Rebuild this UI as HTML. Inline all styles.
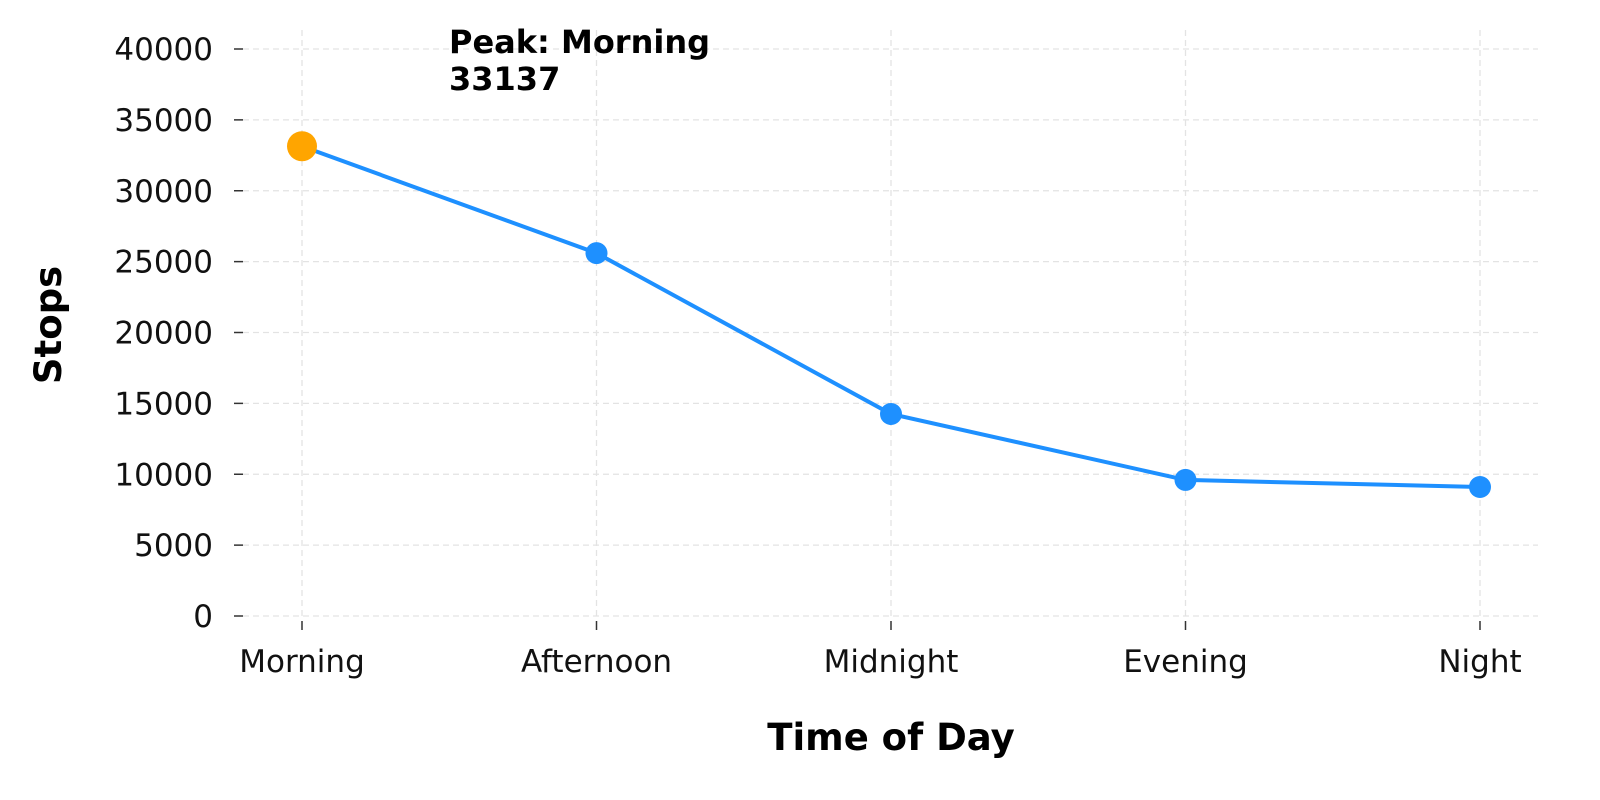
<!DOCTYPE html>
<html><head><meta charset="utf-8"><style>
body{margin:0;background:#fff;}
svg{display:block;font-family:"DejaVu Sans","Liberation Sans",sans-serif;}
</style></head><body>
<svg id="chart" width="1600" height="800" viewBox="0 0 1600 800">
<g id="grid"></g>
<g id="axes"></g>
<g id="series"></g>
<text x="891" y="750" text-anchor="middle" font-size="37" font-weight="bold">Time of Day</text>
<text transform="translate(61,325) rotate(-90)" text-anchor="middle" font-size="37" font-weight="bold">Stops</text>
<text x="449" y="53" font-size="32" font-weight="bold"><tspan x="449">Peak: Morning</tspan><tspan id="peakval" x="449" dy="37">33137</tspan></text>
</svg>
<script>
const categories = ["Morning","Afternoon","Midnight","Evening","Night"];
const stops = [33137, 25600, 14250, 9600, 9100];
const yTicks = [0,5000,10000,15000,20000,25000,30000,35000,40000];
const NS="http://www.w3.org/2000/svg";
function xs(i){return 302+i*294.5;}
function ys(v){return 616-v*(567/40000);}
function mk(tag,attrs,parent){const e=document.createElementNS(NS,tag);for(const k in attrs)e.setAttribute(k,attrs[k]);parent.appendChild(e);return e;}
const grid=document.getElementById('grid'),axes=document.getElementById('axes'),series=document.getElementById('series');
yTicks.forEach(t=>{
  const y=ys(t);
  const g=mk('line',{x1:243,x2:1538,y1:y,y2:y,stroke:'#e3e3e3','stroke-width':1.3,'stroke-dasharray':'6,4'},grid);
  
  
  const tk=mk('line',{x1:234,x2:243,y1:y,y2:y,stroke:'#333','stroke-width':1.5},axes);
  
  
  const tx=mk('text',{x:213,y:y+11,'text-anchor':'end','font-size':31,fill:'#111'},axes);
  tx.textContent=t;
  
  
});
categories.forEach((c,i)=>{
  const x=xs(i);
  const g=mk('line',{x1:x,x2:x,y1:30,y2:616,stroke:'#e3e3e3','stroke-width':1.3,'stroke-dasharray':'6,4'},grid);
  
  
  const tk=mk('line',{x1:x,x2:x,y1:621,y2:630,stroke:'#333','stroke-width':1.5},axes);
  
  
  const tx=mk('text',{x:x,y:672,'text-anchor':'middle','font-size':31,fill:'#111'},axes);
  tx.textContent=c;
  
  
});
const pts=stops.map((v,i)=>xs(i)+','+ys(v)).join(' ');
const pl=mk('polyline',{points:pts,fill:'none',stroke:'#1e90ff','stroke-width':4},series);


let peak=0;stops.forEach((v,i)=>{if(v>stops[peak])peak=i;});
stops.forEach((v,i)=>{
  const c=mk('circle',{cx:xs(i),cy:ys(v),r:i===peak?15:11,fill:i===peak?'#ffa500':'#1e90ff'},series);
  
  
});
document.getElementById('peakval').textContent=stops[peak];
</script>
</body></html>
